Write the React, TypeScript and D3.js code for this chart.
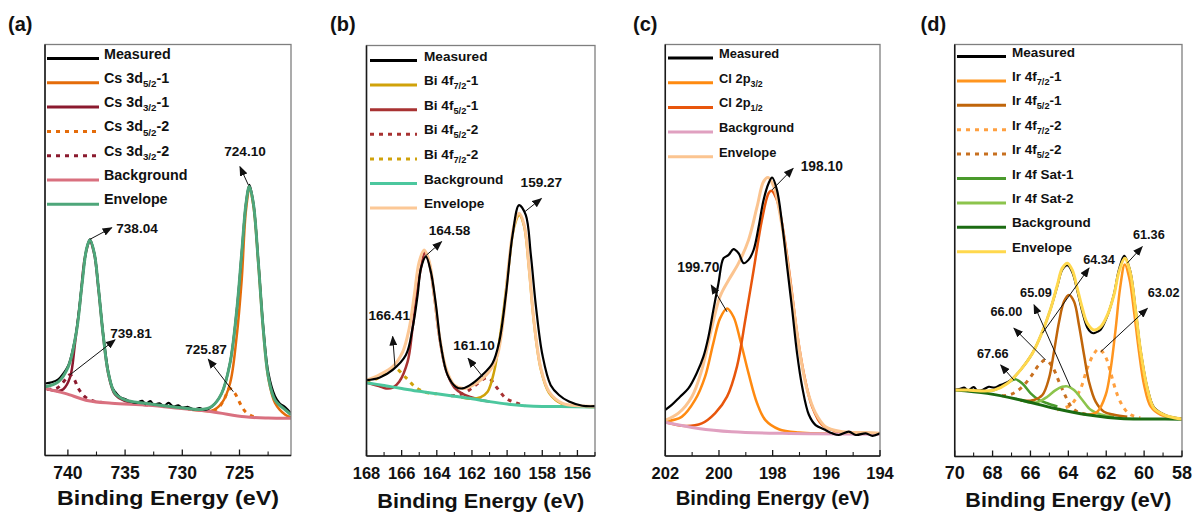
import React from "react";
import * as d3 from "d3";

type Pt = [number, number];

// ================= Panel (a) : Cs 3d =================
const aTicks = [740, 735, 730, 725];
const aMeasured: Pt[] = [
  [742, 17.6], [741.4, 17.9], [740.84, 18.6], [740.4, 20.0], [739.96, 22.0], [739.6, 25.5], [739.23, 30.8],
  [738.79, 41.3], [738.36, 50.4], [738.07, 52.6], [737.69, 49.3], [737.34, 41.2], [736.9, 29.3], [736.46, 20.4],
  [736.1, 16.5], [735.88, 15.6], [735.4, 14.2], [735.0, 13.8], [734.5, 13.2], [734.0, 12.9], [733.5, 13.4],
  [733.2, 12.6], [732.8, 13.3], [732.5, 12.5], [732.0, 12.8], [731.6, 12.1], [731.2, 12.9], [730.8, 12.0],
  [730.35, 12.3], [730.0, 11.7], [729.5, 11.9], [729.0, 11.3], [728.5, 11.6], [728.0, 11.2], [727.43, 12.0],
  [726.56, 15.2], [725.83, 22.6], [725.24, 35.5], [724.81, 49.3], [724.43, 61.5], [724.14, 65.8], [723.79, 61.5],
  [723.35, 47.2], [722.92, 31.2], [722.48, 20.2], [721.9, 14.5], [721.5, 12.8], [721.0, 11.8], [720.5, 10.3],
];
const aEnvelope: Pt[] = [
  [742, 16.8], [740.84, 18.0], [739.96, 21.7], [739.23, 30.6], [738.79, 41.1], [738.36, 50.4], [738.07, 52.4],
  [737.69, 49.2], [737.34, 41.1], [736.9, 29.0], [736.46, 20.1], [735.88, 15.2], [735.0, 13.6], [733.26, 12.8],
  [730.35, 11.8], [728.3, 11.3], [727.43, 12.0], [726.56, 15.2], [725.83, 22.5], [725.24, 35.4], [724.81, 49.2],
  [724.43, 61.3], [724.14, 65.4], [723.79, 61.3], [723.35, 46.8], [722.92, 30.6], [722.48, 19.2], [721.9, 13.6],
  [721.0, 11.2], [720.5, 10.0],
];
const aBackground: Pt[] = [
  [742, 16.4], [740.25, 15.2], [738.2, 13.4], [736.17, 12.8], [733, 12.3], [730.35, 11.6], [727.43, 10.75],
  [724.52, 9.5], [722.5, 9.2], [720.5, 9.15],
];
const aCs52_1: Pt[] = [
  [729.5, 11.35], [728.5, 11.05], [727.43, 11.0], [726.56, 12.8], [725.83, 17.6], [725.25, 29.0], [724.81, 42.7],
  [724.43, 59.8], [724.12, 64.6], [723.79, 60.8], [723.35, 46.5], [722.92, 30.3], [722.48, 18.9], [721.9, 12.9],
  [721.0, 10.0], [720.5, 9.4],
];
const aCs32_1: Pt[] = [
  [742, 16.4], [741.3, 15.9], [740.8, 15.8], [740.4, 16.2], [739.8, 19.2], [739.38, 27.3], [738.94, 37.1],
  [738.5, 48.4], [738.07, 52.0], [737.69, 48.9], [737.34, 40.8], [736.9, 28.8], [736.46, 19.8], [735.88, 14.9],
  [735.0, 13.3], [734.0, 12.7], [733.0, 12.3],
];
const aCs52_2: Pt[] = [
  [727.3, 10.9], [726.8, 11.8], [726.3, 14.0], [725.87, 16.4], [725.4, 15.2], [725.1, 13.6], [724.8, 12.0],
  [724.5, 10.8], [724.0, 9.8], [723.5, 9.4],
];
const aCs32_2: Pt[] = [
  [741.8, 16.2], [741.0, 16.4], [740.5, 17.6], [740.1, 19.0], [739.81, 19.7], [739.45, 18.6], [739.09, 16.4],
  [738.6, 14.6], [738.2, 13.8], [737.6, 13.2], [737.0, 13.0],
];

// ================= Panel (b) : Bi 4f =================
const bTicks = [168, 166, 164, 162, 160, 158, 156];
const bMeasured: Pt[] = [
  [168, 18.4], [167.27, 19.0], [166.51, 20.9], [165.76, 24.5], [165.38, 31.0], [165.09, 39.1], [164.9, 45.6],
  [164.62, 48.4], [164.34, 44.7], [164.05, 36.7], [163.77, 26.9], [163.39, 19.7], [162.92, 16.8], [162.53, 16.4],
  [161.97, 17.6], [161.4, 19.7], [160.83, 22.5], [160.45, 27.7], [160.07, 39.1], [159.69, 53.6], [159.32, 60.9],
  [158.94, 58.5], [158.65, 48.8], [158.37, 36.7], [157.99, 24.5], [157.52, 17.2], [157.05, 14.8], [156.48, 13.2],
  [155.72, 12.2], [155, 12.1],
];
const bEnvelope: Pt[] = [
  [168.0, 18.4], [167.27, 19.7], [166.51, 21.7], [165.94, 25.3], [165.57, 31.0], [165.28, 39.1], [165.0, 47.2],
  [164.72, 50.0], [164.43, 47.2], [164.15, 39.1], [163.86, 29.4], [163.48, 21.3], [163.0, 17.2], [162.44, 16.4],
  [161.78, 17.6], [161.02, 20.5], [160.55, 24.5], [160.17, 35.0], [159.89, 47.2], [159.6, 56.1], [159.32, 58.9],
  [159.03, 56.1], [158.75, 45.6], [158.47, 32.6], [158.08, 21.3], [157.61, 15.6], [156.85, 12.8], [155.91, 12.2],
  [155.0, 12.1],
];
const bBackground: Pt[] = [
  [168, 17.8], [167, 17.1], [166, 16.4], [165, 15.7], [164, 15.1], [163, 14.5], [162, 13.9], [161, 13.2],
  [160, 12.6], [159, 12.2], [158, 12.0], [157, 12.0], [155, 11.9],
];
const bBi72_1: Pt[] = [
  [162.6, 14.2], [162.0, 13.9], [161.5, 14.3], [161.11, 15.6], [160.74, 20.5], [160.45, 27.7], [160.17, 36.5],
  [159.89, 46.7], [159.6, 55.6], [159.3, 58.5], [159.03, 55.7], [158.75, 45.3], [158.47, 32.3], [158.08, 21.0],
  [157.61, 15.3], [156.85, 12.6], [156.0, 12.1], [155, 11.9],
];
const bBi52_1: Pt[] = [
  [168, 17.8], [167.3, 17.0], [166.89, 16.4], [166.5, 16.6], [166.14, 18.0], [165.66, 22.9], [165.38, 31.0],
  [165.1, 40.5], [164.85, 46.8], [164.68, 49.4], [164.43, 46.8], [164.15, 38.8], [163.86, 29.0], [163.48, 20.9],
  [163.0, 16.6], [162.5, 15.0], [162.0, 14.2], [161.5, 13.6], [161, 13.2],
];
const bBi52_2: Pt[] = [
  [163.2, 14.6], [162.7, 14.9], [162.3, 15.6], [161.8, 17.2], [161.1, 19.0], [160.55, 16.4], [160.07, 14.0],
  [159.5, 12.9], [159, 12.2],
];
const bBi72_2: Pt[] = [
  [168, 17.8], [167.5, 18.6], [167, 19.8], [166.41, 21.4], [165.76, 19.0], [165.19, 16.6], [164.6, 15.4],
  [164.0, 15.1],
];

// ================= Panel (c) : Cl 2p =================
const cTicks = [202, 200, 198, 196, 194];
const cMeasured: Pt[] = [
  [202.0, 11.2], [201.76, 12.4], [201.45, 14.4], [201.14, 16.4], [200.83, 20.1], [200.58, 24.1], [200.39, 29.0],
  [200.21, 35.4], [200.02, 41.9], [199.83, 48.0], [199.64, 48.8], [199.46, 50.2], [199.27, 49.2], [199.08, 46.8],
  [198.9, 47.6], [198.71, 50.0], [198.52, 55.7], [198.34, 62.1], [198.15, 66.2], [198.02, 67.6], [197.84, 64.6],
  [197.65, 56.5], [197.46, 45.9], [197.27, 35.4], [197.09, 24.9], [196.9, 16.8], [196.65, 10.0], [196.4, 7.5],
  [196.09, 6.5], [195.78, 5.5], [195.53, 5.1], [195.16, 5.9], [194.9, 5.1], [194.53, 5.5], [194.28, 4.9],
  [194.0, 5.5],
];
const cEnvelope: Pt[] = [
  [202, 8.7], [201.51, 10.4], [201.01, 14.4], [200.64, 20.9], [200.26, 31.4], [199.96, 38.7], [199.64, 42.7],
  [199.27, 46.8], [198.9, 52.4], [198.58, 60.5], [198.34, 66.6], [198.17, 67.6], [197.96, 65.4], [197.71, 58.1],
  [197.46, 47.6], [197.21, 35.4], [196.96, 24.1], [196.71, 16.0], [196.4, 10.4], [196.03, 7.1], [195.41, 5.9],
  [194.53, 5.7], [194.0, 5.5],
];
const cBackground: Pt[] = [
  [202, 8.2], [200.77, 6.7], [199.52, 5.9], [197.65, 5.5], [194, 5.3],
];
const cCl32: Pt[] = [
  [202, 8.4], [201.39, 9.5], [200.89, 13.6], [200.52, 19.2], [200.21, 27.4], [199.96, 33.4], [199.7, 35.8],
  [199.46, 33.8], [199.21, 28.2], [198.9, 20.1], [198.58, 12.8], [198.27, 8.7], [197.77, 6.5], [197.03, 5.7],
  [194, 5.5],
];
const cCl12: Pt[] = [
  [202, 8.2], [201.26, 7.3], [200.64, 7.9], [200.14, 10.4], [199.7, 14.4], [199.33, 21.7], [199.02, 33.0],
  [198.71, 45.1], [198.4, 57.3], [198.15, 63.8], [198.05, 64.4], [197.84, 62.1], [197.59, 54.1], [197.34, 42.7],
  [197.09, 29.8], [196.84, 20.1], [196.53, 12.0], [196.15, 7.5], [195.53, 5.9], [194, 5.5],
];

// ================= Panel (d) : Ir 4f =================
const dTicks = [70, 68, 66, 64, 62, 60, 58];
const dMeasured: Pt[] = [
  [70, 16.0], [69.7, 16.3], [69.5, 16.6], [69.3, 15.9], [69.0, 16.7], [68.8, 15.9], [68.5, 16.1], [68.2, 16.8],
  [67.9, 16.6], [67.6, 17.2], [67.22, 17.9], [66.9, 19.0], [66.52, 20.9], [65.9, 24.9], [65.37, 30.2],
  [64.93, 35.8], [64.58, 41.3], [64.32, 45.2], [64.05, 46.3], [63.79, 44.6], [63.53, 40.2], [63.26, 35.0],
  [63.0, 31.2], [62.8, 30.0], [62.65, 29.8], [62.45, 30.2], [62.29, 30.7], [61.94, 34.0], [61.59, 39.3],
  [61.33, 45.2], [61.05, 48.6], [60.74, 45.0], [60.44, 35.2], [60.18, 25.5], [59.83, 16.6], [59.48, 11.8],
  [58.95, 10.1], [58.42, 9.3], [58, 9.0],
];
const dEnvelope: Pt[] = [
  [70, 16.0], [69.33, 16.0], [68.63, 15.8], [67.92, 16.0], [67.22, 17.6], [66.52, 20.9], [65.9, 24.9],
  [65.37, 30.2], [64.93, 35.8], [64.58, 41.5], [64.32, 45.6], [64.05, 46.8], [63.79, 45.1], [63.53, 40.7],
  [63.26, 35.8], [63.0, 32.2], [62.65, 30.6], [62.29, 31.4], [61.94, 34.2], [61.59, 39.1], [61.33, 44.7],
  [61.02, 48.0], [60.74, 44.7], [60.44, 35.0], [60.18, 25.3], [59.83, 16.4], [59.48, 11.6], [58.95, 10.0],
  [58.42, 9.3], [58, 9.0],
];
const dBackground: Pt[] = [
  [70, 16.0], [68.28, 15.2], [66.52, 13.6], [64.76, 11.6], [63.0, 10.0], [61.24, 9.1], [59.48, 9.0], [58, 8.9],
];
const dIr72_1: Pt[] = [
  [63.0, 10.0], [62.47, 10.75], [62.03, 14.8], [61.76, 21.3], [61.5, 31.0], [61.27, 40.7], [61.02, 46.5],
  [60.78, 43.1], [60.53, 35.0], [60.27, 25.3], [60.0, 17.2], [59.65, 12.0], [59.12, 10.0], [58, 9.0],
];
const dIr52_1: Pt[] = [
  [66.52, 13.4], [65.81, 13.6], [65.37, 14.8], [65.02, 18.9], [64.76, 25.3], [64.49, 32.6], [64.23, 37.5],
  [63.97, 39.1], [63.7, 37.5], [63.44, 31.8], [63.17, 24.5], [62.91, 18.0], [62.56, 13.2], [62.12, 10.75],
  [61.59, 10.0], [60.89, 9.5],
];
const dIr72_2: Pt[] = [
  [64.6, 11.2], [63.87, 12.4], [63.35, 16.4], [63.0, 21.3], [62.65, 24.8], [62.38, 26.0], [62.03, 24.0],
  [61.76, 20.1], [61.41, 14.8], [61.06, 11.6], [60.71, 10.0], [60.2, 9.3],
];
const dIr52_2: Pt[] = [
  [67.5, 14.6], [67.0, 15.0], [66.52, 16.4], [65.99, 19.2], [65.55, 22.1], [65.2, 23.3], [64.85, 21.7],
  [64.49, 18.0], [64.14, 14.4], [63.79, 11.6], [63.35, 10.4], [62.8, 10.0],
];
const dSat1: Pt[] = [
  [68.63, 15.6], [67.92, 16.0], [67.4, 17.2], [67.04, 18.2], [66.78, 18.6], [66.43, 17.6], [65.99, 15.2],
  [65.55, 13.6], [65.11, 12.8], [64.58, 12.0],
];
const dSat2: Pt[] = [
  [66.52, 13.6], [66.0, 13.0], [65.55, 13.2], [65.11, 14.4], [64.67, 16.0], [64.32, 16.8], [64.05, 16.9],
  [63.7, 16.0], [63.26, 13.6], [62.82, 11.2], [62.29, 10.1], [61.59, 9.5],
];

// ================= configuration =================
interface Series { label: string; color: string; width: number; dash?: string; data: Pt[] }
interface Ann { text: string; at: Pt; from: Pt; to: Pt }
interface PanelCfg {
  id: string; tag: string; tagX: number;
  domain: [number, number]; ticks: number[]; minorStep: number;
  box: { x0: number; x1: number; y0: number; y1: number };
  legend: { x0: number; x1: number; tx: number; y0: number; dy: number; fs: number };
  legendSeries: Series[]; drawSeries: Series[];
  anns: Ann[]; annFs: number; tickFs: number; titleFs: number; titleLen: number; titleY: number;
}

const DOT = "4 5";

const aS = {
  meas: { label: "Measured", color: "#000000", width: 2.2, data: aMeasured },
  c52: { label: "Cs 3d_{5/2}-1", color: "#e46c0a", width: 2.5, data: aCs52_1 },
  c32: { label: "Cs 3d_{3/2}-1", color: "#8b1a2e", width: 2.5, data: aCs32_1 },
  c52b: { label: "Cs 3d_{5/2}-2", color: "#e46c0a", width: 3, dash: DOT, data: aCs52_2 },
  c32b: { label: "Cs 3d_{3/2}-2", color: "#8b1a2e", width: 3, dash: DOT, data: aCs32_2 },
  bg: { label: "Background", color: "#d9707f", width: 3, data: aBackground },
  env: { label: "Envelope", color: "#4ea67a", width: 3, data: aEnvelope },
};
const bS = {
  meas: { label: "Measured", color: "#000000", width: 2.2, data: bMeasured },
  f72: { label: "Bi 4f_{7/2}-1", color: "#d0a20a", width: 2.5, data: bBi72_1 },
  f52: { label: "Bi 4f_{5/2}-1", color: "#a83232", width: 2.5, data: bBi52_1 },
  f52b: { label: "Bi 4f_{5/2}-2", color: "#a83232", width: 3, dash: DOT, data: bBi52_2 },
  f72b: { label: "Bi 4f_{7/2}-2", color: "#d0a20a", width: 3, dash: DOT, data: bBi72_2 },
  bg: { label: "Background", color: "#4cc79e", width: 3, data: bBackground },
  env: { label: "Envelope", color: "#fcc896", width: 3, data: bEnvelope },
};
const cS = {
  meas: { label: "Measured", color: "#000000", width: 2.2, data: cMeasured },
  p32: { label: "Cl 2p_{3/2}", color: "#ff8a10", width: 2.5, data: cCl32 },
  p12: { label: "Cl 2p_{1/2}", color: "#e8560c", width: 2.5, data: cCl12 },
  bg: { label: "Background", color: "#e0a0c0", width: 3, data: cBackground },
  env: { label: "Envelope", color: "#fbc490", width: 3, data: cEnvelope },
};
const dS = {
  meas: { label: "Measured", color: "#000000", width: 2.2, data: dMeasured },
  f72: { label: "Ir 4f_{7/2}-1", color: "#ff951f", width: 2.5, data: dIr72_1 },
  f52: { label: "Ir 4f_{5/2}-1", color: "#c0650a", width: 2.5, data: dIr52_1 },
  f72b: { label: "Ir 4f_{7/2}-2", color: "#ffa040", width: 3, dash: DOT, data: dIr72_2 },
  f52b: { label: "Ir 4f_{5/2}-2", color: "#c87020", width: 3, dash: DOT, data: dIr52_2 },
  s1: { label: "Ir 4f Sat-1", color: "#4a9a2c", width: 2.5, data: dSat1 },
  s2: { label: "Ir 4f Sat-2", color: "#8cc44c", width: 2.5, data: dSat2 },
  bg: { label: "Background", color: "#1b6b12", width: 3, data: dBackground },
  env: { label: "Envelope", color: "#ffd84d", width: 3, data: dEnvelope },
};

const panels: PanelCfg[] = [
  {
    id: "a", tag: "(a)", tagX: 8, domain: [742, 720.5], ticks: aTicks, minorStep: 2.5,
    box: { x0: 45, x1: 291, y0: 44.5, y1: 455.5 },
    legend: { x0: 47, x1: 99, tx: 104, y0: 58.5, dy: 24.3, fs: 14.3 },
    legendSeries: [aS.meas, aS.c52, aS.c32, aS.c52b, aS.c32b, aS.bg, aS.env],
    drawSeries: [aS.c52b, aS.c32b, aS.c52, aS.c32, aS.bg, aS.meas, aS.env],
    anns: [
      { text: "724.10", at: [724.52, 73.9], from: [724.23, 65.8], to: [724.96, 70.2] },
      { text: "738.04", at: [733.96, 55.4], from: [738.07, 52.6], to: [736.17, 55.4] },
      { text: "739.81", at: [734.48, 29.8], from: [739.82, 19.7], to: [735.88, 28.2] },
      { text: "725.87", at: [727.93, 25.9], from: [725.54, 15.6], to: [727.73, 23.5] },
    ],
    annFs: 13.6, tickFs: 17.5, titleFs: 21, titleLen: 222, titleY: 505,
  },
  {
    id: "b", tag: "(b)", tagX: 330, domain: [168, 155], ticks: bTicks, minorStep: 1,
    box: { x0: 366.5, x1: 595, y0: 45.5, y1: 456 },
    legend: { x0: 370, x1: 417, tx: 424, y0: 60.5, dy: 24.6, fs: 13.6 },
    legendSeries: [bS.meas, bS.f72, bS.f52, bS.f52b, bS.f72b, bS.bg, bS.env],
    drawSeries: [bS.f52b, bS.f72b, bS.f52, bS.f72, bS.bg, bS.env, bS.meas],
    anns: [
      { text: "159.27", at: [158.05, 66.6], from: [158.99, 59.3], to: [158.05, 62.5] },
      { text: "164.58", at: [163.28, 54.9], from: [164.68, 48.4], to: [163.73, 52.0] },
      { text: "166.41", at: [166.71, 34.2], from: [166.38, 21.7], to: [166.51, 29.0] },
      { text: "161.10", at: [161.88, 26.9], from: [161.4, 19.3], to: [162.22, 23.7] },
    ],
    annFs: 13.6, tickFs: 16.5, titleFs: 21, titleLen: 207, titleY: 508,
  },
  {
    id: "c", tag: "(c)", tagX: 633, domain: [202, 194], ticks: cTicks, minorStep: 1,
    box: { x0: 665.3, x1: 880, y0: 44.5, y1: 456 },
    legend: { x0: 668, x1: 713, tx: 719, y0: 58, dy: 24.7, fs: 12.9 },
    legendSeries: [cS.meas, cS.p32, cS.p12, cS.bg, cS.env],
    drawSeries: [cS.p32, cS.p12, cS.bg, cS.env, cS.meas],
    anns: [
      { text: "198.10", at: [196.17, 70.4], from: [198.02, 64.6], to: [197.24, 69.8] },
      { text: "199.70", at: [200.77, 45.9], from: [199.7, 35.0], to: [200.29, 41.5] },
    ],
    annFs: 13.8, tickFs: 16.5, titleFs: 19.5, titleLen: 194, titleY: 505,
  },
  {
    id: "d", tag: "(d)", tagX: 920.5, domain: [70, 58], ticks: dTicks, minorStep: 1,
    box: { x0: 954.7, x1: 1182, y0: 44.5, y1: 456.5 },
    legend: { x0: 957, x1: 1006, tx: 1012, y0: 56.5, dy: 24.4, fs: 13.5 },
    legendSeries: [dS.meas, dS.f72, dS.f52, dS.f72b, dS.f52b, dS.s1, dS.s2, dS.bg, dS.env],
    drawSeries: [dS.f72b, dS.f52b, dS.s1, dS.s2, dS.f52, dS.f72, dS.bg, dS.meas, dS.env],
    anns: [
      { text: "61.36", at: [59.75, 53.8], from: [60.89, 46.8], to: [60.1, 50.8] },
      { text: "64.34", at: [62.38, 47.7], from: [65.37, 29.8], to: [62.91, 45.6] },
      { text: "63.02", at: [58.97, 39.6], from: [62.29, 25.3], to: [59.83, 35.8] },
      { text: "65.09", at: [65.71, 39.6], from: [63.9, 16.8], to: [65.81, 36.7] },
      { text: "66.00", at: [67.27, 35.0], from: [65.2, 23.3], to: [66.87, 31.0] },
      { text: "67.66", at: [67.99, 24.8], from: [66.87, 18.4], to: [67.57, 22.1] },
    ],
    annFs: 12.7, tickFs: 18, titleFs: 20, titleLen: 206, titleY: 507,
  },
];

const FONT = "'Liberation Sans', Arial, Helvetica, sans-serif";

function RichLabel({ s, x, y, fs }: { s: string; x: number; y: number; fs: number }) {
  const parts = s.split(/(_\{[^}]*\})/).filter((p) => p.length > 0);
  const shift = fs * 0.3;
  let inSub = false;
  const spans = parts.map((part, i) => {
    if (part.startsWith("_{")) {
      inSub = true;
      return (
        <tspan key={i} fontSize={fs * 0.68} dy={shift}>
          {part.slice(2, -1)}
        </tspan>
      );
    }
    const dy = inSub ? -shift : 0;
    inSub = false;
    return (
      <tspan key={i} dy={dy}>
        {part}
      </tspan>
    );
  });
  return (
    <text x={x} y={y} fontSize={fs} fontWeight="bold" fontFamily={FONT} fill="#111" dy="0.36em">
      {spans}
    </text>
  );
}

function Panel({ p }: { p: PanelCfg }) {
  const { box } = p;
  const x = d3.scaleLinear().domain(p.domain).range([box.x0, box.x1]);
  const y = d3.scaleLinear().domain([0, 100]).range([456, 44]);
  const line = d3
    .line<Pt>()
    .x((d) => x(d[0]))
    .y((d) => y(d[1]))
    .curve(d3.curveCatmullRom.alpha(0.5));
  const lo = Math.min(p.domain[0], p.domain[1]);
  const hi = Math.max(p.domain[0], p.domain[1]);
  const major = p.ticks;
  const minor = d3
    .range(Math.ceil(lo / p.minorStep) * p.minorStep, hi + 1e-9, p.minorStep)
    .filter((t) => !major.some((m) => Math.abs(m - t) < 1e-6));
  const clipId = `clip-${p.id}`;
  return (
    <g>
      <defs>
        <clipPath id={clipId}>
          <rect x={box.x0} y={box.y0} width={box.x1 - box.x0} height={box.y1 - box.y0} />
        </clipPath>
      </defs>
      <text x={p.tagX} y={31} fontSize={20} fontWeight="bold" fontFamily={FONT} fill="#111">
        {p.tag}
      </text>
      {/* curves */}
      <g clipPath={`url(#${clipId})`}>
        {p.drawSeries.map((s, i) => (
          <path
            key={i}
            d={line(s.data) || ""}
            fill="none"
            stroke={s.color}
            strokeWidth={s.width}
            strokeDasharray={s.dash}
            strokeLinejoin="round"
          />
        ))}
      </g>
      {/* frame */}
      <rect x={box.x0} y={box.y0} width={box.x1 - box.x0} height={box.y1 - box.y0} fill="none" stroke="#7f7f7f" strokeWidth={1.3} />
      <line x1={box.x0} x2={box.x0} y1={box.y0} y2={box.y1} stroke="#1a1a1a" strokeWidth={1.5} />
      <line x1={box.x0} x2={box.x1} y1={box.y1} y2={box.y1} stroke="#1a1a1a" strokeWidth={1.5} />
      {/* ticks */}
      {major.map((t) => (
        <g key={`M${t}`}>
          <line x1={x(t)} x2={x(t)} y1={box.y1} y2={box.y1 - 6} stroke="#1a1a1a" strokeWidth={1.3} />
          <text x={x(t)} y={479} textAnchor="middle" fontSize={p.tickFs} fontWeight="bold" fontFamily={FONT} fill="#111">
            {t}
          </text>
        </g>
      ))}
      {minor.map((t) => (
        <line key={`m${t}`} x1={x(t)} x2={x(t)} y1={box.y1} y2={box.y1 - 4} stroke="#1a1a1a" strokeWidth={1.1} />
      ))}
      <text
        x={(box.x0 + box.x1) / 2}
        y={p.titleY}
        textAnchor="middle"
        fontSize={p.titleFs}
        fontWeight="bold"
        fontFamily={FONT}
        fill="#111"
        textLength={p.titleLen}
        lengthAdjust="spacingAndGlyphs"
      >
        Binding Energy (eV)
      </text>
      {/* legend */}
      {p.legendSeries.map((s, i) => {
        const ry = p.legend.y0 + i * p.legend.dy;
        return (
          <g key={`L${i}`}>
            <line
              x1={p.legend.x0}
              x2={p.legend.x1}
              y1={ry}
              y2={ry}
              stroke={s.color}
              strokeWidth={3}
              strokeDasharray={s.dash}
            />
            <RichLabel s={s.label} x={p.legend.tx} y={ry} fs={p.legend.fs} />
          </g>
        );
      })}
      {/* annotations */}
      {p.anns.map((a, i) => (
        <g key={`A${i}`}>
          <line
            x1={x(a.from[0])}
            y1={y(a.from[1])}
            x2={x(a.to[0])}
            y2={y(a.to[1])}
            stroke="#111"
            strokeWidth={1}
            markerEnd="url(#arrowHead)"
          />
          <text
            x={x(a.at[0])}
            y={y(a.at[1])}
            dy="0.36em"
            textAnchor="middle"
            fontSize={p.annFs}
            fontWeight="bold"
            fontFamily={FONT}
            fill="#111"
          >
            {a.text}
          </text>
        </g>
      ))}
    </g>
  );
}

export default function App() {
  return (
    <svg
      width={1194}
      height={513}
      viewBox="0 0 1194 513"
      style={{ position: "absolute", left: 0, top: 0, background: "#ffffff" }}
    >
      <defs>
        <marker
          id="arrowHead"
          markerUnits="userSpaceOnUse"
          markerWidth={10}
          markerHeight={8}
          refX={9}
          refY={4}
          orient="auto"
        >
          <path d="M0,0 L10,4 L0,8 z" fill="#111" />
        </marker>
      </defs>
      <rect x={0} y={0} width={1194} height={513} fill="#ffffff" />
      {panels.map((p) => (
        <Panel key={p.id} p={p} />
      ))}
    </svg>
  );
}
